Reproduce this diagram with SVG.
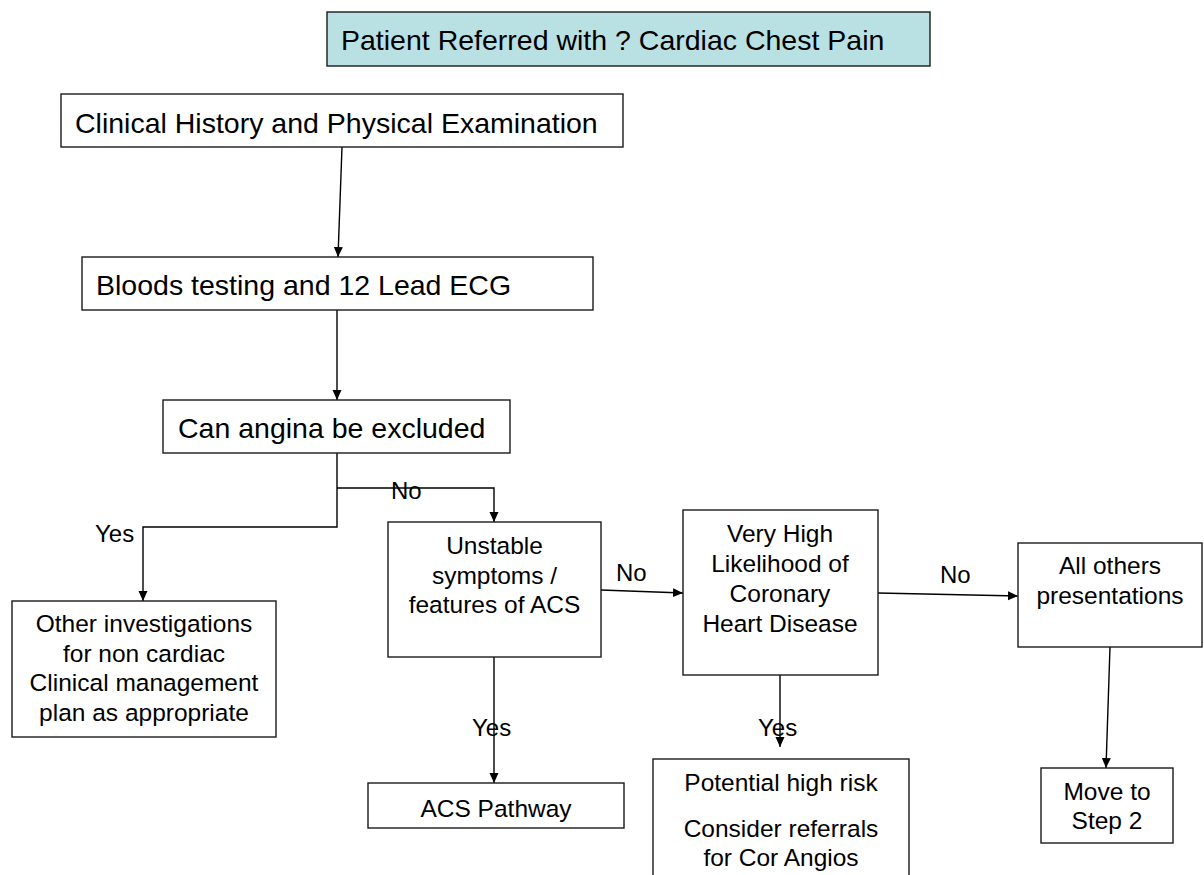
<svg xmlns="http://www.w3.org/2000/svg" width="1204" height="875" viewBox="0 0 1204 875">
<style>
.box{fill:#ffffff;stroke:#1a1a1a;stroke-width:1.4}
.start{fill:#b9e0e3;stroke:#1a1a1a;stroke-width:1.4}
.big{font-family:"Liberation Sans",Arial,sans-serif;font-size:28.5px;fill:#000}
.t{font-family:"Liberation Sans",Arial,sans-serif;font-size:24.5px;fill:#000;text-anchor:middle}
.lbl{font-family:"Liberation Sans",Arial,sans-serif;font-size:24px;fill:#000}
.c{fill:none;stroke:#000;stroke-width:1.4}
</style>
<defs>
<marker id="ah" markerUnits="userSpaceOnUse" markerWidth="10" markerHeight="10" refX="10" refY="4.5" orient="auto">
<path d="M0,0 L10,4.5 L0,9 z" fill="#000"/>
</marker>
</defs>
<rect width="1204" height="875" fill="#ffffff"/>

<g id="connectors">
<line class="c" x1="342" y1="147" x2="338" y2="257" marker-end="url(#ah)"/>
<line class="c" x1="337" y1="310" x2="337" y2="400" marker-end="url(#ah)"/>
<polyline class="c" points="337,453 337,527 143,527 143,601" marker-end="url(#ah)"/>
<polyline class="c" points="337,488 494,488 494,522" marker-end="url(#ah)"/>
<line class="c" x1="601" y1="590" x2="683" y2="593" marker-end="url(#ah)"/>
<line class="c" x1="878" y1="593" x2="1018" y2="596" marker-end="url(#ah)"/>
<line class="c" x1="494" y1="657" x2="494" y2="783" marker-end="url(#ah)"/>
<line class="c" x1="780" y1="675" x2="780" y2="747" marker-end="url(#ah)"/>
<line class="c" x1="1110" y1="647" x2="1106" y2="768" marker-end="url(#ah)"/>
<text class="lbl" x="391" y="499">No</text>
<text class="lbl" x="95" y="542">Yes</text>
<text class="lbl" x="616" y="581">No</text>
<text class="lbl" x="940" y="583">No</text>
<text class="lbl" x="472" y="736">Yes</text>
<text class="lbl" x="758" y="736">Yes</text>
</g>

<g id="n-start">
<rect class="start" x="327" y="12" width="603" height="54"/>
<text class="big" x="341" y="50">Patient Referred with ? Cardiac Chest Pain</text>
</g>

<g id="n-history">
<rect class="box" x="61" y="94" width="562" height="53"/>
<text class="big" x="75" y="133">Clinical History and Physical Examination</text>
</g>

<g id="n-bloods">
<rect class="box" x="82" y="257" width="511" height="53"/>
<text class="big" x="96" y="295">Bloods testing and 12 Lead ECG</text>
</g>

<g id="n-exclude">
<rect class="box" x="163" y="400" width="347" height="53"/>
<text class="big" x="178" y="438">Can angina be excluded</text>
</g>

<g id="n-other">
<rect class="box" x="12" y="601" width="264" height="136"/>
<text class="t" x="144" y="632">Other investigations</text>
<text class="t" x="144" y="661.5">for non cardiac</text>
<text class="t" x="144" y="691">Clinical management</text>
<text class="t" x="144" y="720.5">plan as appropriate</text>
</g>

<g id="n-unstable">
<rect class="box" x="388" y="522" width="213" height="135"/>
<text class="t" x="494.5" y="554">Unstable</text>
<text class="t" x="494.5" y="583.5">symptoms /</text>
<text class="t" x="494.5" y="613">features of ACS</text>
</g>

<g id="n-veryhigh">
<rect class="box" x="683" y="510" width="195" height="165"/>
<text class="t" x="780" y="542">Very High</text>
<text class="t" x="780" y="572">Likelihood of</text>
<text class="t" x="780" y="601.5">Coronary</text>
<text class="t" x="780" y="632">Heart Disease</text>
</g>

<g id="n-allothers">
<rect class="box" x="1018" y="543" width="184" height="104"/>
<text class="t" x="1110" y="574">All others</text>
<text class="t" x="1110" y="604">presentations</text>
</g>

<g id="n-acs">
<rect class="box" x="368" y="783" width="256" height="45"/>
<text class="t" x="496" y="817">ACS Pathway</text>
</g>

<g id="n-highrisk">
<rect class="box" x="653" y="759" width="256" height="130"/>
<text class="t" x="781" y="791">Potential high risk</text>
<text class="t" x="781" y="837">Consider referrals</text>
<text class="t" x="781" y="866">for Cor Angios</text>
</g>

<g id="n-step2">
<rect class="box" x="1041" y="768" width="132" height="75"/>
<text class="t" x="1107" y="800">Move to</text>
<text class="t" x="1107" y="829">Step 2</text>
</g>
</svg>
